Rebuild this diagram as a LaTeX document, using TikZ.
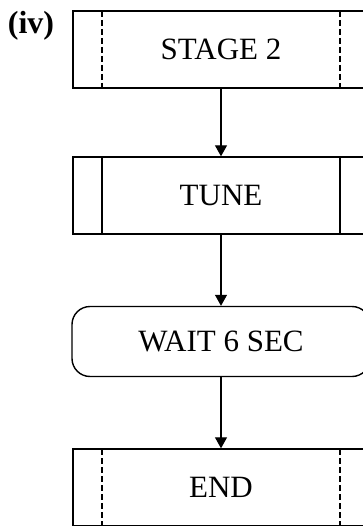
\documentclass[tikz,border=0pt]{standalone}
\usepackage{fontspec}
\setmainfont{Liberation Serif}
\usetikzlibrary{arrows.meta, positioning}

\tikzset{
  block/.style={rectangle, minimum width=296pt, minimum height=77pt, text centered, draw=black, line width=1.4pt, font=\fontsize{31}{34}\selectfont},
  stagebox/.style={block, path picture={
      \draw[line width=1.3pt, dash pattern=on 6pt off 3pt]
        ([xshift=29pt]path picture bounding box.north west) -- ([xshift=29pt]path picture bounding box.south west)
        ([xshift=-29pt]path picture bounding box.north east) -- ([xshift=-29pt]path picture bounding box.south east);}},
  tunebox/.style={block, path picture={
      \draw[line width=1.4pt]
        ([xshift=29pt]path picture bounding box.north west) -- ([xshift=29pt]path picture bounding box.south west)
        ([xshift=-29pt]path picture bounding box.north east) -- ([xshift=-29pt]path picture bounding box.south east);}},
  waitbox/.style={block, rounded corners=18pt, minimum width=298pt, minimum height=70pt},
  arrow/.style={line width=1.2pt, -{Triangle[length=11pt, width=12pt]}},
}

\begin{document}
\begin{tikzpicture}[node distance=146pt]

\useasboundingbox (0pt,0pt) rectangle (363pt,-526pt);
\clip (0pt,0pt) rectangle (363pt,-526pt);

\node (stage) [stagebox] at (221pt,-49.5pt) {STAGE 2};
\node (tune) [tunebox, below of=stage] {TUNE};
\node (wait) [waitbox, below of=tune] {WAIT 6 SEC};
\node (end) [stagebox, below of=wait] {END};
\node (label) [anchor=north east, inner sep=0pt, font=\fontsize{32}{34}\selectfont\bfseries] at ([xshift=-18pt, yshift=-1pt]stage.north west) {(iv)};

\draw [arrow] (stage) -- (tune);
\draw [arrow] (tune) -- (wait);
\draw [arrow] (wait) -- (end);

\end{tikzpicture}
\end{document}
